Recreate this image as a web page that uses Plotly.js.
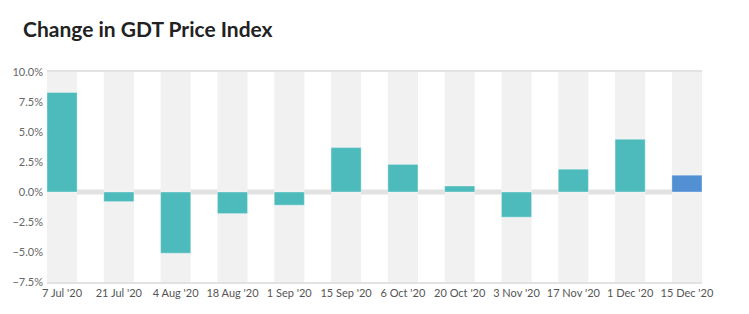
<!DOCTYPE html>
<html><head><meta charset="utf-8">
<script src="https://cdn.plot.ly/plotly-3.0.1.min.js"></script>
<style>html,body{margin:0;padding:0;background:#fff}#chart{width:749px;height:314px}</style>
</head><body><div id="chart"></div>
<script>
const categories = ["7 Jul '20","21 Jul '20","4 Aug '20","18 Aug '20","1 Sep '20","15 Sep '20","6 Oct '20","20 Oct '20","3 Nov '20","17 Nov '20","1 Dec '20","15 Dec '20"];
const changes = [8.3,-0.8,-5.1,-1.8,-1.1,3.7,2.3,0.5,-2.1,1.9,4.4,1.4];
const barColors = ["#4dbbbc","#4dbbbc","#4dbbbc","#4dbbbc","#4dbbbc","#4dbbbc","#4dbbbc","#4dbbbc","#4dbbbc","#4dbbbc","#4dbbbc","#528fd3"];
const yMin = -7.5, yMax = 10;
const barWidth = 0.53;

const idx = categories.map((c,i)=>i);
const shapes = [];
idx.forEach(i=>{
  shapes.push({type:'rect', xref:'x', yref:'y', x0:i-barWidth/2, x1:i+barWidth/2, y0:yMin, y1:yMax,
    fillcolor:'#f1f1f1', line:{width:0}, layer:'below'});
});
shapes.push({type:'line', xref:'paper', yref:'y', x0:0, x1:1, y0:0, y1:0, line:{color:'#e2e2e2', width:5}, layer:'below'});

const trace = {
  type:'bar', x: idx, y: changes, width: barWidth,
  marker:{color: barColors, line:{color:'rgba(255,255,255,0.35)', width:1}},
  hoverinfo:'skip'
};

const layout = {
  width:749, height:314,
  margin:{l:47, r:47, t:72, b:32},
  paper_bgcolor:'#fff', plot_bgcolor:'#fff',
  showlegend:false,
  font:{family:'Lato, sans-serif', color:'#666', size:11},
  title:{text:'Change in GDT Price Index', font:{family:'Lato, sans-serif', size:21, weight:700, color:'#222'},
    xref:'container', x:23/749, xanchor:'left', yref:'container', y:1-30/314, yanchor:'middle'},
  xaxis:{range:[-barWidth/2, categories.length-1+barWidth/2], tickvals: idx, ticktext: categories,
    showgrid:false, zeroline:false, showline:true, mirror:true, linecolor:'#e2e2e2', linewidth:2,
    ticks:'', tickfont:{size:11, color:'#555'}, fixedrange:true},
  yaxis:{range:[yMin, yMax], dtick:2.5, tick0:0, tickformat:'.1f', ticksuffix:'%',
    showgrid:false, zeroline:false, showline:false, ticks:'', ticklabelstandoff:3,
    tickfont:{size:11, color:'#666'}, fixedrange:true},
  shapes: shapes
};
Plotly.newPlot('chart', [trace], layout, {displayModeBar:false, staticPlot:true});
</script></body></html>
